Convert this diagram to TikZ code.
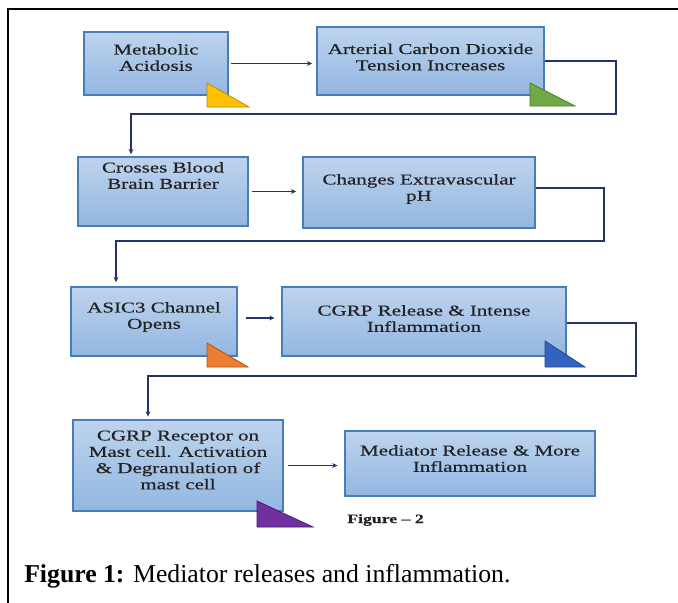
\documentclass[tikz,border=0pt]{standalone}
\usepackage{fontspec}
\setmainfont{Liberation Serif}
\newfontfamily\boxfont[FakeStretch=1.4,FakeBold=0.4]{Liberation Serif}
\usetikzlibrary{arrows.meta}
\definecolor{boxtop}{HTML}{BDD4EE}
\definecolor{boxbot}{HTML}{93B6E1}
\definecolor{boxedge}{HTML}{4A7CB8}
\definecolor{textc}{HTML}{222222}
\definecolor{connc}{HTML}{26336F}
\definecolor{triY}{HTML}{FFC000}
\definecolor{triYd}{HTML}{B88A00}
\definecolor{triG}{HTML}{6FAA46}
\definecolor{triGd}{HTML}{4C7A2E}
\definecolor{triO}{HTML}{ED7D31}
\definecolor{triOd}{HTML}{A8551C}
\definecolor{triB}{HTML}{3463BF}
\definecolor{triBd}{HTML}{23478F}
\definecolor{triP}{HTML}{7030A0}
\definecolor{triPd}{HTML}{4A1E6C}
\begin{document}
\begin{tikzpicture}[x=0.75pt,y=-0.75pt,
  box/.style={rectangle, draw=boxedge, line width=1.1pt, top color=boxtop, bottom color=boxbot, inner sep=0pt},
  btext/.style={font=\boxfont\fontsize{11.25}{12.2}\selectfont, align=center, text=textc, inner sep=0pt},
  conn/.style={draw=connc, line width=1.1pt},
  arr/.style={conn, -{Stealth[length=4pt,width=3.6pt]}}]
\useasboundingbox[fill=white] (0,0) rectangle (678,603);
% frame
\draw[line width=1.6pt] (8,603) -- (8,9) -- (678,9);
% boxes
\node[box, minimum width=108pt, minimum height=47.25pt] (b1) at (156,63.5) {};
\node[box, minimum width=170.25pt, minimum height=51pt] (b2) at (430.5,61) {};
\node[box, minimum width=127.5pt, minimum height=51.75pt] (b3) at (163,191.5) {};
\node[box, minimum width=174pt, minimum height=53.25pt] (b4) at (419,192.5) {};
\node[box, minimum width=124.5pt, minimum height=51.75pt] (b5) at (154,321.5) {};
\node[box, minimum width=213pt, minimum height=51.75pt] (b6) at (424,321.5) {};
\node[box, minimum width=157.5pt, minimum height=68.25pt] (b7) at (178,465.5) {};
\node[box, minimum width=187.5pt, minimum height=48.75pt] (b8) at (470,463.5) {};
% texts
\node[btext] (t1) at (156,57.5) {Metabolic\\Acidosis};
\node[btext] (t2) at (430.5,57) {Arterial Carbon Dioxide\\Tension Increases};
\node[btext] (t3) at (163,175.5) {Crosses Blood\\Brain Barrier};
\node[btext] (t4) at (419,189) {Changes Extravascular\\pH};
\node[btext] (t5) at (154,317) {ASIC3 Channel\\Opens};
\node[btext] (t6) at (424,318.5) {CGRP Release \& Intense\\Inflammation};
\node[btext] (t7) at (178,460) {CGRP Receptor on\\Mast cell. Activation\\\& Degranulation of\\mast cell};
\node[btext] (t8) at (470,458.5) {Mediator Release \& More\\Inflammation};
% triangles
\filldraw[fill=triY, draw=triYd, line width=0.6pt] (207,83) -- (207,107) -- (249,107) -- cycle;
\filldraw[fill=triG, draw=triGd, line width=0.6pt] (530,83) -- (530,106) -- (575,106) -- cycle;
\filldraw[fill=triO, draw=triOd, line width=0.6pt] (207,343) -- (207,367) -- (248,367) -- cycle;
\filldraw[fill=triB, draw=triBd, line width=0.6pt] (545,341) -- (545,367) -- (585,367) -- cycle;
\filldraw[fill=triP, draw=triPd, line width=0.6pt] (257,501) -- (257,527) -- (313,527) -- cycle;
% straight arrows
\draw[arr, shorten <=1.5pt, shorten >=3pt] (b1.east) -- (b1.east -| b2.west);
\draw[arr, shorten <=2.2pt, shorten >=4.5pt] (b3.east) -- (b3.east -| b4.west);
\coordinate (y5) at (0,318);
\draw[arr, shorten <=6pt, shorten >=5pt] (b5.east |- y5) -- (b6.west |- y5);
\draw[arr, shorten <=3.5pt, shorten >=5pt] (b7.east) -- (b7.east -| b8.west);
% elbow connectors
\coordinate (k1) at (616,114);
\coordinate (k1b) at (131,114);
\draw[arr, shorten >=1.5pt] (b2.east) -| (k1) -- (k1b) -- (k1b |- b3.north);
\coordinate (y4) at (0,188);
\coordinate (k2) at (604,241);
\coordinate (k2b) at (116,241);
\draw[arr, shorten >=3pt] (b4.east |- y4) -| (k2) -- (k2b) -- (k2b |- b5.north);
\coordinate (y6) at (0,323);
\coordinate (k3) at (636,376);
\coordinate (k3b) at (148,376);
\draw[arr, shorten >=2pt] (b6.east |- y6) -| (k3) -- (k3b) -- (k3b |- b7.north);
% labels
\node[anchor=west, inner sep=0pt, text=textc, font=\boxfont\bfseries\fontsize{9.5}{11}\selectfont] (fig2) at (347,520) {Figure \textendash{} 2};
\node[anchor=base west, inner sep=0pt, font=\fontsize{19.3}{23}\selectfont] (cap) at (24,582) {\textbf{Figure 1:} Mediator releases and inflammation.};
\end{tikzpicture}
\end{document}
